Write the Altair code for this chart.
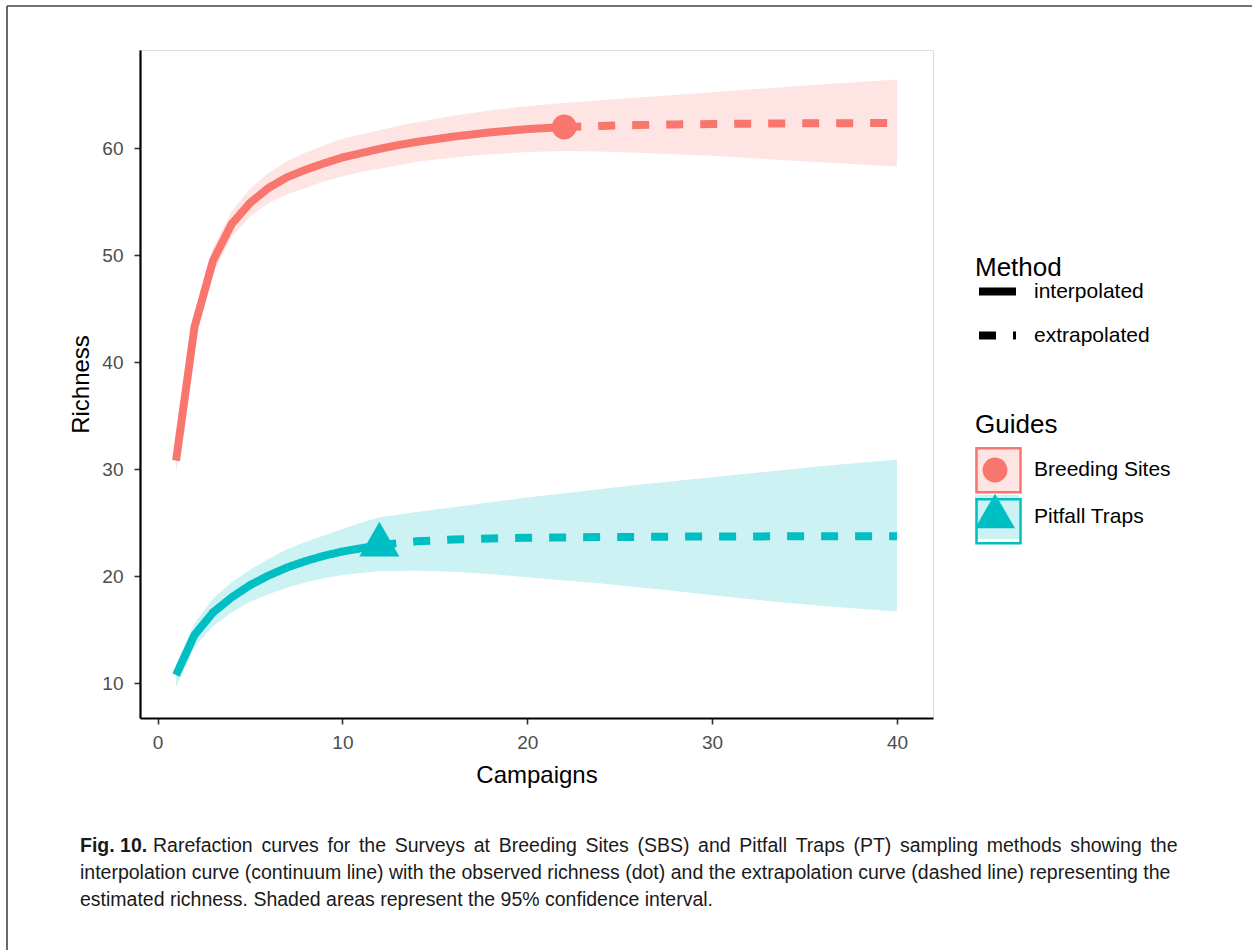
import altair as alt
import pandas as pd

RED = "#F8766D"
TEAL = "#00BFC4"

# ---------------- data ----------------
bs_interp_x = list(range(1, 23))
bs_interp_y = [30.8, 43.3, 49.5, 52.9, 54.9, 56.3, 57.3, 58.0, 58.6, 59.15, 59.55,
               59.95, 60.3, 60.6, 60.85, 61.1, 61.3, 61.5, 61.65, 61.8, 61.9, 62.0]
bs_interp_lo = [29.7, 42.1, 48.3, 51.7, 53.6, 54.9, 55.7, 56.3, 56.9, 57.4, 57.8,
                58.1, 58.4, 58.75, 58.95, 59.15, 59.3, 59.45, 59.55, 59.65, 59.7, 59.75]
bs_interp_hi = [31.9, 44.5, 50.7, 54.1, 56.2, 57.7, 58.8, 59.6, 60.3, 60.9, 61.3,
                61.7, 62.1, 62.45, 62.75, 63.05, 63.3, 63.55, 63.75, 63.95, 64.1, 64.25]
bs_extrap_x = [22, 24, 26, 28, 30, 32, 34, 36, 38, 40]
bs_extrap_y = [62.0, 62.1, 62.18, 62.24, 62.28, 62.31, 62.33, 62.35, 62.36, 62.37]
bs_extrap_lo = [59.75, 59.7, 59.6, 59.45, 59.3, 59.1, 58.9, 58.7, 58.5, 58.3]
bs_extrap_hi = [64.25, 64.5, 64.75, 65.0, 65.25, 65.5, 65.75, 66.0, 66.2, 66.45]

pt_interp_x = list(range(1, 13))
pt_interp_y = [10.75, 14.5, 16.6, 18.0, 19.15, 20.05, 20.8, 21.4, 21.9, 22.3, 22.6, 22.9]
pt_interp_lo = [9.6, 13.4, 15.3, 16.6, 17.6, 18.3, 18.9, 19.4, 19.8, 20.1, 20.3, 20.45]
pt_interp_hi = [11.7, 15.6, 17.9, 19.4, 20.6, 21.6, 22.5, 23.2, 23.8, 24.4, 25.0, 25.5]
pt_extrap_x = [12, 14, 16, 18, 20, 22, 24, 26, 28, 30, 32, 34, 36, 38, 40]
pt_extrap_y = [22.9, 23.25, 23.42, 23.52, 23.58, 23.62, 23.65, 23.67, 23.69, 23.7,
               23.71, 23.72, 23.72, 23.73, 23.73]
pt_extrap_lo = [20.45, 20.5, 20.4, 20.2, 19.9, 19.6, 19.3, 18.95, 18.6, 18.2,
                17.85, 17.5, 17.2, 16.95, 16.7]
pt_extrap_hi = [25.5, 26.0, 26.45, 26.9, 27.35, 27.75, 28.15, 28.55, 28.9, 29.25,
                29.6, 29.95, 30.3, 30.6, 30.9]

guides = ["Breeding Sites", "Pitfall Traps"]
methods = ["interpolated", "extrapolated"]
observed_x = [22, 12]
observed_y = [62.0, 22.9]

x_ticks = [0, 10, 20, 30, 40]
y_ticks = [10, 20, 30, 40, 50, 60]

caption_bold = "Fig. 10."
caption_lines = [
    "Rarefaction curves for the Surveys at Breeding Sites (SBS) and Pitfall Traps (PT) sampling methods showing the",
    "interpolation curve (continuum line) with the observed richness (dot) and the extrapolation curve (dashed line) representing the",
    "estimated richness. Shaded areas represent the 95% confidence interval.",
]

# ---------------- tables ----------------
band_rows = []
for g, xs, lo, hi in [
    (guides[0], bs_interp_x + bs_extrap_x[1:], bs_interp_lo + bs_extrap_lo[1:], bs_interp_hi + bs_extrap_hi[1:]),
    (guides[1], pt_interp_x + pt_extrap_x[1:], pt_interp_lo + pt_extrap_lo[1:], pt_interp_hi + pt_extrap_hi[1:]),
]:
    for a, b, c in zip(xs, lo, hi):
        band_rows.append({"x": a, "lo": b, "hi": c, "Guides": g})
band_df = pd.DataFrame(band_rows)

line_rows = []
for g, m, xs, ys in [
    (guides[0], methods[0], bs_interp_x, bs_interp_y),
    (guides[0], methods[1], bs_extrap_x, bs_extrap_y),
    (guides[1], methods[0], pt_interp_x, pt_interp_y),
    (guides[1], methods[1], pt_extrap_x, pt_extrap_y),
]:
    for a, b in zip(xs, ys):
        line_rows.append({"x": a, "y": b, "Guides_s": g, "Method": m})
line_df = pd.DataFrame(line_rows)

point_df = pd.DataFrame({"x": observed_x, "y": observed_y, "Guides_p": guides})

# ---------------- scales / axes ----------------
FONT = "Liberation Sans"
xscale = alt.Scale(domain=[-0.95, 41.95], nice=False, zero=False)
yscale = alt.Scale(domain=[6.73, 69.2], nice=False, zero=False)
xaxis = alt.Axis(values=x_ticks, title="Campaigns", grid=False, labelFontSize=19,
                 labelColor="#4D4D4D", tickColor="#333333", tickWidth=1.6, tickSize=6,
                 domainColor="black", domainWidth=2.2, labelPadding=9,
                 titleFontSize=24, titleFontWeight="normal", titleColor="black",
                 titlePadding=11, labelFont=FONT, titleFont=FONT)
yaxis = alt.Axis(values=y_ticks, title="Richness", grid=False, labelFontSize=19,
                 labelColor="#4D4D4D", tickColor="#333333", tickWidth=1.6, tickSize=6,
                 domainColor="black", domainWidth=2.2, labelPadding=11,
                 titleFontSize=24, titleFontWeight="normal", titleColor="black",
                 titlePadding=8, labelFont=FONT, titleFont=FONT)

LX = 835
METHOD_Y = 205
GUIDES_Y = 362
TITLE_H = 26

def guide_legend(**kw):
    base = dict(orient="none", legendX=LX, legendY=GUIDES_Y, title="Guides",
                titleFontSize=26, titleFontWeight="normal", titleColor="black",
                titleFont=FONT, labelFont=FONT, labelFontSize=21, labelColor="black",
                labelOffset=15, rowPadding=3, titlePadding=10)
    base.update(kw)
    return alt.Legend(**base)

band = alt.Chart(band_df).mark_area(opacity=0.2).encode(
    x=alt.X("x:Q", scale=xscale, axis=xaxis),
    y=alt.Y("lo:Q", scale=yscale, axis=yaxis),
    y2="hi:Q",
    fill=alt.Fill("Guides:N", scale=alt.Scale(range=[RED, TEAL]),
                  legend=guide_legend(symbolType="square", symbolSize=1936,
                                      symbolOpacity=0.2, symbolStrokeWidth=0)),
)

# outline squares of the Guides key (overlaid, no text of its own)
stroke_legend = guide_legend(symbolType="square", symbolSize=1936,
                             symbolStrokeWidth=2.5, symbolFillColor="transparent",
                             title=None, labelExpr="''", rowPadding=-7.5,
                             legendY=GUIDES_Y + TITLE_H + 8.75)

lines = alt.Chart(line_df).mark_line(strokeWidth=8, color="black").encode(
    x="x:Q",
    y="y:Q",
    stroke=alt.Stroke("Guides_s:N", scale=alt.Scale(range=[RED, TEAL]), legend=stroke_legend),
    strokeDash=alt.StrokeDash("Method:N",
                              scale=alt.Scale(domain=methods, range=[[1, 0], [17, 17]]),
                              legend=alt.Legend(title="Method", orient="none", legendX=LX,
                                                legendY=METHOD_Y, symbolType="stroke",
                                                symbolSize=1369, symbolStrokeWidth=8,
                                                symbolStrokeColor="black",
                                                titleFontSize=26, titleFontWeight="normal",
                                                titleColor="black", titleFont=FONT,
                                                labelFont=FONT, labelFontSize=21,
                                                labelColor="black", labelOffset=14,
                                                rowPadding=5, titlePadding=-12)),
)

# point symbols of the Guides key (overlaid, no text of its own)
point_legend = guide_legend(symbolStrokeWidth=0, title=None, labelExpr="''",
                            rowPadding=8.5, legendY=GUIDES_Y + TITLE_H + 19.5)
pt_enc = dict(
    x="x:Q",
    y="y:Q",
    color=alt.Color("Guides_p:N", scale=alt.Scale(range=[RED, TEAL]), legend=point_legend),
    shape=alt.Shape("Guides_p:N", scale=alt.Scale(range=["circle", "triangle-up"]), legend=point_legend),
    size=alt.Size("Guides_p:N", scale=alt.Scale(range=[615, 1600]), legend=point_legend),
)
pt_circle = alt.Chart(point_df).transform_filter(
    alt.datum.Guides_p == guides[0]).mark_point(filled=True, opacity=1).encode(**pt_enc)
pt_tri = alt.Chart(point_df).transform_filter(
    alt.datum.Guides_p == guides[1]).mark_point(filled=True, opacity=1, yOffset=-6).encode(**pt_enc)

# ---------------- figure frame and caption ----------------
one = pd.DataFrame({"k": [0]})
frame_top = alt.Chart(one).mark_rule(color="#444444", strokeWidth=1.6).encode(
    x=alt.value(-133), x2=alt.value(1112), y=alt.value(-44))
frame_left = alt.Chart(one).mark_rule(color="#444444", strokeWidth=1.6).encode(
    x=alt.value(-133), y=alt.value(-44), y2=alt.value(900))

CAP_SIZE = 19.5
line1_justified = caption_lines[0].replace(" ", " \u2006")
cap_bold = alt.Chart(one).mark_text(text=caption_bold, font=FONT, fontSize=CAP_SIZE,
                                    fontWeight="bold", align="left", baseline="alphabetic",
                                    color="#1a1a1a").encode(x=alt.value(-60), y=alt.value(802))
cap1 = alt.Chart(one).mark_text(text=line1_justified, font=FONT, fontSize=CAP_SIZE,
                                align="left", baseline="alphabetic", color="#1a1a1a").encode(
    x=alt.value(13), y=alt.value(802))
cap2 = alt.Chart(one).mark_text(text=caption_lines[1], font=FONT, fontSize=CAP_SIZE,
                                align="left", baseline="alphabetic", color="#1a1a1a").encode(
    x=alt.value(-60), y=alt.value(829))
cap3 = alt.Chart(one).mark_text(text=caption_lines[2], font=FONT, fontSize=CAP_SIZE,
                                align="left", baseline="alphabetic", color="#1a1a1a").encode(
    x=alt.value(-60), y=alt.value(856))

chart = alt.layer(
    band, lines, pt_circle, pt_tri, frame_top, frame_left, cap_bold, cap1, cap2, cap3
).properties(
    width=793, height=668,
    autosize=alt.AutoSizeParams(type="none"),
    padding={"left": 140, "top": 50, "right": 319, "bottom": 232},
    background="white",
).configure_view(
    stroke="#555555", strokeWidth=1.2
).configure(font=FONT)

chart.save("out.html", embed_options={"renderer": "svg", "actions": False})
